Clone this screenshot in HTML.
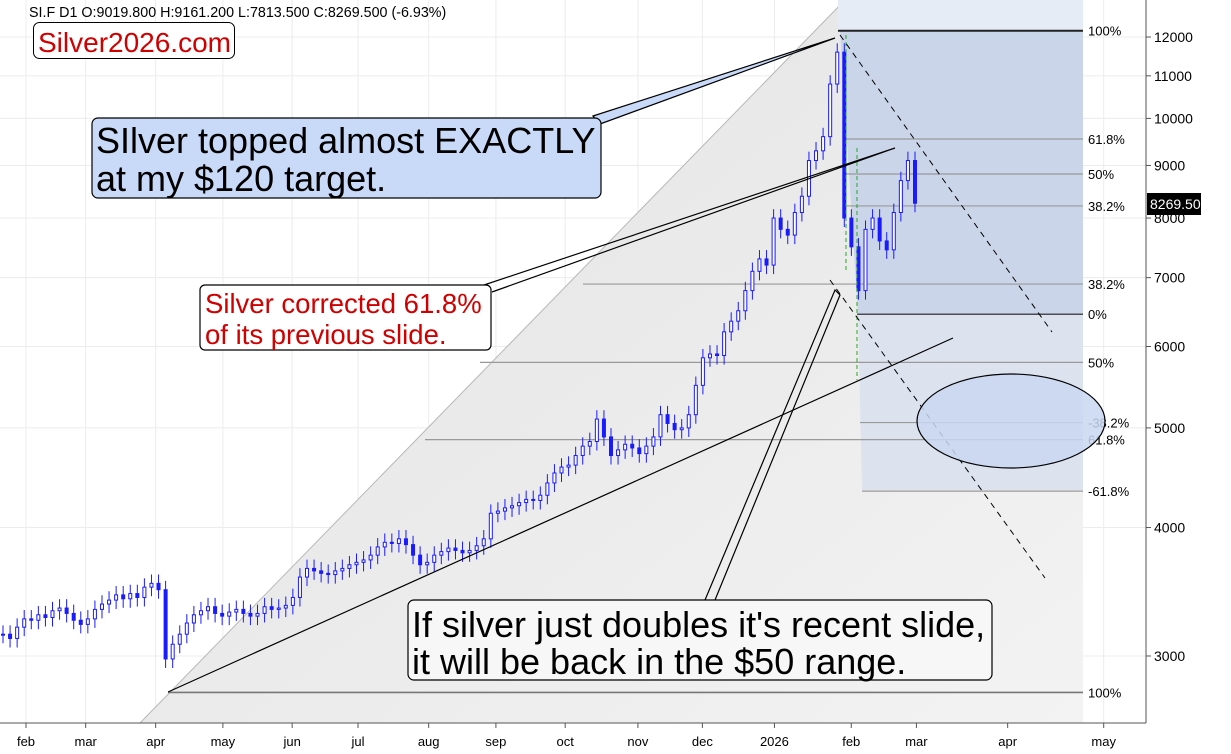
<!DOCTYPE html>
<html><head><meta charset="utf-8"><style>
html,body{margin:0;padding:0;background:#fff;}
svg{display:block;font-family:"Liberation Sans",Arial,sans-serif;}
</style></head><body>
<svg id="chart" width="1231" height="754" viewBox="0 0 1231 754" xmlns="http://www.w3.org/2000/svg">
<defs>
<linearGradient id="gg" x1="0" y1="0" x2="1" y2="1"><stop offset="0" stop-color="#e2e2e2"/><stop offset="1" stop-color="#f3f3f3"/></linearGradient>
</defs>
<g id="grid"></g>
<polygon points="140,723 845,0 1083,0 1083,723" fill="url(#gg)"/>
<line x1="140" y1="723" x2="845" y2="0" stroke="#b8b8b8" stroke-width="1"/>
<polygon points="838,0 1083,0 1083,31 838,31" fill="#e6ecf6"/>
<polygon points="840,31 1083,31 1083,315 858,315" fill="#cad5ea"/>
<polygon points="858,315 1083,315 1083,490 862,490" fill="#dde3ee"/>
<g id="fiblines"></g>
<g id="candles"></g>
<line x1="846" y1="35" x2="846" y2="270" stroke="#2a2" stroke-dasharray="4,3"/>
<line x1="857" y1="148" x2="857" y2="380" stroke="#2a2" stroke-dasharray="4,3"/>
<line x1="168" y1="692" x2="953" y2="338" stroke="#000" stroke-width="1.2"/>
<line x1="840" y1="35" x2="1052" y2="332" stroke="#000" stroke-dasharray="6,5"/>
<line x1="830" y1="280" x2="1045" y2="578" stroke="#000" stroke-dasharray="6,5"/>
<ellipse cx="1011" cy="421" rx="94" ry="47" fill="#c9d7f1" fill-opacity="0.85" stroke="#000" stroke-width="1.2"/>
<polygon points="593,116 835,38 600,124" fill="#c9daf8" stroke="#000" stroke-width="1.2"/>
<polyline points="484,285 895,148 492,292" fill="none" stroke="#000" stroke-width="1.2"/>
<polyline points="705,600 835,290 840,295 715,600" fill="none" stroke="#000" stroke-width="1.2"/>
<line x1="1146" y1="0" x2="1146" y2="723" stroke="#555"/>
<line x1="0" y1="723" x2="1146" y2="723" stroke="#555"/>
<g id="yaxis"></g>
<g id="xaxis"></g>
<rect x="1147" y="193" width="54" height="22" fill="#000"/>
<text x="1150" y="209" font-size="14" fill="#fff">8269.50</text>
<text x="29" y="17" font-size="14.3" fill="#000">SI.F  D1  O:9019.800  H:9161.200  L:7813.500  C:8269.500  (-6.93%)</text>
<rect x="33.5" y="22.5" width="201" height="36" rx="6" fill="#fff" stroke="#000"/>
<text x="38" y="52" font-size="28" fill="#d00000">Silver2026.com</text>
<rect x="92" y="118" width="509" height="80" rx="6" fill="#c9daf8" stroke="#000" stroke-width="1.2"/>
<text font-size="36" fill="#000"><tspan x="96" y="153">SIlver topped almost EXACTLY</tspan><tspan x="96" y="191">at my $120 target.</tspan></text>
<rect x="200" y="285" width="291" height="65" rx="5" fill="#fff" stroke="#000" stroke-width="1.2"/>
<text font-size="27.5" fill="#d00000"><tspan x="205" y="313">Silver corrected 61.8%</tspan><tspan x="205" y="344">of its previous slide.</tspan></text>
<rect x="408" y="600" width="584" height="80" rx="6" fill="#f7f7f7" stroke="#000" stroke-width="1.2"/>
<text font-size="36" fill="#000"><tspan x="412" y="637">If silver just doubles it's recent slide,</tspan><tspan x="412" y="674">it will be back in the $50 range.</tspan></text>
</svg>
<script>
const closes = [3150,3120,3200,3260,3250,3290,3270,3320,3340,3300,3250,3220,3260,3330,3370,3400,3440,3410,3450,3420,3500,3530,3480,2980,3080,3150,3230,3290,3320,3350,3300,3280,3310,3330,3300,3280,3300,3350,3330,3340,3360,3420,3580,3650,3630,3610,3600,3630,3650,3680,3700,3720,3760,3830,3870,3860,3900,3850,3760,3680,3700,3760,3790,3820,3800,3780,3800,3840,3900,4130,4150,4180,4200,4230,4260,4250,4300,4420,4520,4580,4600,4700,4800,4850,5100,4900,4700,4760,4820,4780,4720,4800,4900,5150,5050,4980,5000,5150,5500,5850,5900,5880,6200,6350,6500,6800,7100,7300,7200,8000,7800,7700,8100,8400,9100,9300,9600,10800,11600,8000,7500,6800,7800,8000,7600,7450,8100,8700,9100,8270];
const yTicks = [3000,4000,5000,6000,7000,8000,9000,10000,11000,12000];
const monthLabels = ["feb","mar","apr","may","jun","jul","aug","sep","oct","nov","dec","2026","feb","mar","apr","may"];
const monthIndex = [0,0.87,1.89,2.87,3.88,4.84,5.87,6.85,7.86,8.92,9.86,10.91,12.03,12.98,14.31,15.71];
const fibLevels = [["100%",12170],["61.8%",9550],["50%",8830],["38.2%",8220],["38.2%",6900],["0%",6450],["50%",5790],["-38.2%",5060],["61.8%",4870],["-61.8%",4340],["100%",2765]];
const fibStart = [838,845,845,845,583,857,480,860,425,862,168];

const NS="http://www.w3.org/2000/svg";
function yS(p){return 37+446.5*Math.log(12000/p);}
function xI(i){return 3+i*(912/(closes.length-1));}
function xM(m){return 26+m*68.6;}
function mk(tag,attrs,parent){const e=document.createElementNS(NS,tag);for(const k in attrs)e.setAttribute(k,attrs[k]);parent.appendChild(e);return e;}
const grid=document.getElementById('grid'),ya=document.getElementById('yaxis'),xa=document.getElementById('xaxis');
yTicks.forEach(t=>{const y=yS(t);
 const g=mk('line',{x1:0,x2:1146,y1:y,y2:y,stroke:'#ececec'},grid);
 
 
 const tk=mk('line',{x1:1146,x2:1151,y1:y,y2:y,stroke:'#555'},ya);
 
 
 const tx=mk('text',{x:1154,y:y+5,'font-size':14},ya);tx.textContent=t;
 
 
});
monthLabels.forEach((m,i)=>{const x=xM(monthIndex[i]);
 const g=mk('line',{x1:x,x2:x,y1:0,y2:723,stroke:'#ececec'},grid);
 
 
 const tk=mk('line',{x1:x,x2:x,y1:723,y2:728,stroke:'#555'},xa);
 
 
 const tx=mk('text',{x:x,y:746,'font-size':13,'text-anchor':'middle'},xa);tx.textContent=m;
 
 
});
const fl=document.getElementById('fiblines');
fibLevels.forEach((f,i)=>{const y=yS(f[1]);const dark=(f[0]==="0%"||i===0);const last=(i===fibLevels.length-1);
 const l=mk('line',{x1:fibStart[i],x2:1083,y1:y,y2:y,stroke:dark?'#222':(last?'#777':'#999'),'stroke-width':i===0?2:(last?1.6:1.2)},fl);
 
 
 const t=mk('text',{x:1088,y:y+5,'font-size':13},fl);t.textContent=f[0];
 
 
});
const cg=document.getElementById('candles');
closes.forEach((c,i)=>{const o=i?closes[i-1]:c;const x=xI(i);
 const hi=Math.max(o,c)*1.02,lo=Math.min(o,c)*0.98;
 const w=mk('line',{x1:x,x2:x,y1:yS(hi),y2:yS(lo),stroke:'#1a1aff','stroke-width':1},cg);
 
 
 const top=yS(Math.max(o,c)),bot=yS(Math.min(o,c));
 const r=mk('rect',{x:x-1.5,y:top,width:3,height:Math.max(1,bot-top),fill:c>=o?'#fff':'#1a1aff',stroke:'#1a1aff','stroke-width':1},cg);
 
 
});
</script>
</body></html>
